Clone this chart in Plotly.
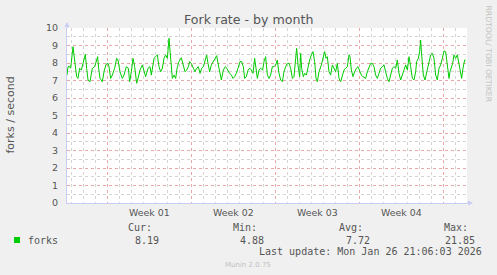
import plotly.graph_objects as go

# ---- data (hours since start of graph window, forks/second) ----
hours = [
    0.0, 2.0, 6.0, 7.3, 12.0, 16.0, 19.3, 22.0, 25.3, 28.7, 32.7, 36.7, 39.3, 42.0, 46.0,
    50.7, 55.3, 59.3, 61.3, 63.3, 66.0, 70.7, 74.0, 78.0, 82.0, 84.0, 87.3, 90.7, 95.3,
    99.3, 102.0, 106.0, 110.7, 114.0, 118.7, 122.7, 125.3, 128.7, 132.0, 135.3, 139.3,
    142.0, 146.0, 150.7, 154.0, 157.3, 162.0, 166.0, 168.7, 171.3, 174.0, 177.3, 180.7,
    184.0, 187.3, 190.7,
    194.0, 197.3, 200.7, 204.0, 207.3, 210.7, 214.0, 217.3, 220.7, 224.0, 228.7, 232.7,
    236.0, 239.3, 242.7, 245.3, 248.7, 252.7, 256.0, 259.3, 262.7, 266.0, 269.3, 272.7,
    276.7, 279.3, 282.0, 285.3, 288.7, 292.7, 297.3, 299.3, 302.7, 306.0, 308.7, 312.7,
    316.7, 319.3, 322.7, 325.3, 328.7, 332.0, 335.3, 338.7, 342.0, 346.0, 349.3, 352.7,
    355.3, 358.7, 362.0, 366.0, 368.7, 372.0, 375.3, 378.0, 380.7, 384.0, 387.3, 391.3,
    394.0, 397.3, 400.7, 404.0, 407.3, 410.7, 414.0, 417.3, 420.7, 423.3, 427.3, 430.7,
    434.0, 437.3, 440.7, 444.0, 447.3, 450.7, 454.0, 457.3, 459.3, 462.0, 465.3, 467.3,
    469.3, 472.7, 475.3, 478.7, 482.0, 485.3, 488.7, 492.0, 495.3, 498.0, 500.7, 504.0,
    508.7, 512.7, 515.3, 518.0, 520.7, 524.0, 527.3, 530.7, 534.0, 537.3, 540.7, 544.0,
    547.3, 550.7, 554.0, 557.3, 560.7, 564.0, 566.0, 568.7, 572.0, 575.3, 578.7, 582.0,
    585.3, 588.7, 592.0,
    597.3, 600.7, 604.0, 607.3, 610.7, 614.0, 617.3, 620.7, 624.0, 627.3, 630.7, 634.0,
    637.3, 640.7, 644.0, 647.3, 650.7, 654.0, 657.3, 660.7, 664.0, 667.3, 670.7, 674.0,
    677.3, 680.7, 684.0, 687.3, 690.7, 694.0, 697.3, 699.3, 702.7, 705.3, 707.3, 709.3,
    712.7, 716.0, 719.3, 724.0, 727.3, 730.7, 734.0, 737.3, 740.7, 744.0, 747.3, 750.7,
    754.0, 757.3, 760.7, 764.0, 766.0, 768.7, 771.3, 774.0, 777.3, 780.7, 784.0, 787.3,
    789.3, 792.0, 795.3, 797.3,
]
forks = [
    7.31, 7.79, 7.79, 7.70, 8.93, 7.79, 7.22, 7.12, 7.70, 7.60, 7.98, 8.50, 7.70, 7.03, 6.93,
    7.70, 7.79, 8.27, 8.36, 7.70, 7.12, 6.93, 7.50, 7.92, 7.98, 7.79, 7.12, 7.31, 7.70,
    8.27, 8.17, 7.50, 7.12, 7.31, 7.79, 7.70, 6.93, 7.50, 8.27, 7.79, 6.84,
    7.12, 7.60, 7.89, 7.50, 7.22, 7.70, 7.79, 7.31, 7.89, 8.27, 8.36, 8.46,
    7.79, 7.50, 7.70,
    8.27, 8.46, 8.27, 9.41, 8.08, 7.12, 7.31, 7.12, 7.79, 8.08, 8.30, 7.89,
    7.50, 7.60, 7.79, 8.08, 7.98, 7.70, 7.50, 7.70, 7.79, 7.41, 7.70, 7.79,
    8.27, 8.46, 7.98, 7.50, 7.89, 8.08, 8.27, 8.42, 7.89, 7.50, 7.03, 7.60,
    7.79, 7.70, 7.50, 7.41, 7.31, 7.12, 7.22, 7.41, 7.70, 8.08, 8.08, 7.79,
    7.12, 7.22, 7.60, 7.70, 7.60, 7.41, 8.27, 7.79, 7.12, 7.60, 7.70, 7.60,
    8.08, 8.36, 7.31, 7.12, 7.31, 7.79, 7.79, 7.89, 8.17, 7.50, 7.03, 6.93,
    7.50, 7.79, 7.98, 7.98, 7.70, 7.12, 7.22, 8.27, 8.84, 7.89, 7.22, 8.55,
    7.70, 7.22, 7.41, 7.31, 7.79, 8.17, 8.46, 8.65, 8.08, 7.12, 6.93, 7.50,
    7.89, 8.27, 8.65, 8.27, 8.36, 7.50, 7.31, 7.89, 7.70, 7.50, 7.98, 7.12,
    6.93, 7.31, 7.60, 7.70, 7.79, 8.46, 8.36, 7.60, 7.22, 7.50, 7.70, 7.79,
    7.60, 7.31, 7.22,
    7.12, 7.50, 7.79, 7.98, 7.98, 7.79, 7.31, 7.12, 7.41, 7.70, 7.79, 7.89,
    7.50, 7.12, 6.93, 7.31, 7.70, 7.79, 7.70, 8.17, 7.41, 7.03, 7.31, 7.70,
    7.89, 7.60, 8.36, 7.79, 7.12, 7.03, 7.50, 8.08, 8.27, 8.65, 9.31, 8.46,
    7.31, 7.03, 7.50, 8.08, 8.46, 8.55, 8.27, 7.31, 7.03, 7.70, 7.89, 8.27,
    8.69, 8.65, 7.89, 7.12, 7.50, 7.70, 7.98, 8.46, 8.27, 8.46, 7.89, 7.22,
    7.12, 7.70, 8.17, 8.17,
]

window_hours = 800
first_week_boundary = 80.6   # hour of first Monday 00:00 in the window
week_labels = ["Week 01", "Week 02", "Week 03", "Week 04"]
stat_names = ["Cur:", "Min:", "Avg:", "Max:"]
stat_values = ["8.19", "4.88", "7.72", "21.85"]
series_name = "forks"
title = "Fork rate - by month"
y_title = "forks / second"
last_update = "Last update: Mon Jan 26 21:06:03 2026"
footer = "Munin 2.0.75"
watermark = "RRDTOOL/ TOBI OETIKER"

W, H = 497, 275
L, R, T, B = 67, 30, 28, 72
PW, PH = W - L - R, H - T - B

def px(x):
    return (x - L) / PW

def py(y):
    return (H - B - y) / PH

GREEN = "#00cc00"
TXT = "#555555"
MONO = "DejaVu Sans Mono"
SANS = "DejaVu Sans"
RED_GRID = "#e8a8a8"
GREY_GRID = "#d4d4d4"
AXIS = "#c8ccf4"

fig = go.Figure()
fig.add_trace(go.Scatter(x=hours, y=forks, mode="lines",
                         line=dict(color=GREEN, width=1), hoverinfo="skip",
                         showlegend=False))

fig.update_layout(
    width=W, height=H,
    margin=dict(l=L, r=R, t=T, b=B),
    paper_bgcolor="#f0f0f0", plot_bgcolor="white",
    showlegend=False,
    xaxis=dict(range=[0, window_hours], showticklabels=False, ticks="",
               tick0=first_week_boundary, dtick=168,
               showgrid=True, gridcolor=RED_GRID, griddash="dot", gridwidth=1,
               minor=dict(tick0=first_week_boundary, dtick=24, showgrid=True,
                          gridcolor=GREY_GRID, griddash="dot", gridwidth=1),
               zeroline=False, showline=True, linecolor=AXIS, linewidth=1,
               fixedrange=True),
    yaxis=dict(range=[0, 10], tick0=0, dtick=1, ticks="",
               ticklabelstandoff=6,
               tickfont=dict(family=SANS, size=9.5, color=TXT),
               showgrid=True, gridcolor=RED_GRID, griddash="dot", gridwidth=1,
               minor=dict(dtick=0.5, showgrid=True, gridcolor=GREY_GRID,
                          griddash="dot", gridwidth=1),
               zeroline=False, showline=True, linecolor=AXIS, linewidth=1,
               fixedrange=True),
)

ann = []
# title
ann.append(dict(text=title, xref="paper", yref="paper", x=px(248), y=py(19.5),
                xanchor="center", yanchor="middle", showarrow=False,
                font=dict(family=SANS, size=12.6, color=TXT)))
# y axis title
ann.append(dict(text=y_title, xref="paper", yref="paper", x=px(10), y=py(115.5),
                xanchor="center", yanchor="middle", textangle=-90, showarrow=False,
                font=dict(family=SANS, size=11, color=TXT)))
# watermark
ann.append(dict(text=watermark, xref="paper", yref="paper", x=px(488), y=py(53.5),
                xanchor="center", yanchor="middle", textangle=90, showarrow=False,
                font=dict(family=SANS, size=7.7, color="#c4c4c4")))
# week labels (centred between week boundaries)
for i, lab in enumerate(week_labels):
    ann.append(dict(text=lab, xref="x", yref="paper",
                    x=first_week_boundary + 84 + 168 * i, y=py(212.3),
                    xanchor="center", yanchor="middle", showarrow=False,
                    font=dict(family=SANS, size=9.4, color=TXT)))
# legend stats
name_right = [154, 259.3, 365, 470]
val_right = [161, 266, 371.7, 476.7]
for n, v, xr1, xr2 in zip(stat_names, stat_values, name_right, val_right):
    ann.append(dict(text=n, xref="paper", yref="paper", x=px(xr1), y=py(227.5),
                    xanchor="right", yanchor="middle", showarrow=False,
                    font=dict(family=MONO, size=10, color=TXT)))
    ann.append(dict(text=v, xref="paper", yref="paper", x=px(xr2), y=py(240),
                    xanchor="right", yanchor="middle", showarrow=False,
                    font=dict(family=MONO, size=10, color=TXT)))
ann.append(dict(text=series_name, xref="paper", yref="paper", x=px(26), y=py(240),
                xanchor="left", yanchor="middle", showarrow=False,
                font=dict(family=MONO, size=10, color=TXT)))
ann.append(dict(text=last_update, xref="paper", yref="paper", x=px(484), y=py(251.7),
                xanchor="right", yanchor="middle", showarrow=False,
                font=dict(family=MONO, size=10, color=TXT)))
ann.append(dict(text=footer, xref="paper", yref="paper", x=px(248), y=py(264.5),
                xanchor="center", yanchor="middle", showarrow=False,
                font=dict(family=SANS, size=7, color="#c0c0c0")))
# axis arrows
ann.append(dict(text="", xref="paper", yref="paper", x=0, y=py(22),
                ax=0, ay=8, showarrow=True, arrowhead=2, arrowsize=1,
                arrowwidth=1, arrowcolor=AXIS))
ann.append(dict(text="", xref="paper", yref="paper", x=px(473), y=0,
                ax=-8, ay=0, showarrow=True, arrowhead=2, arrowsize=1,
                arrowwidth=1, arrowcolor=AXIS))
fig.update_layout(annotations=ann)

# legend colour swatch
fig.add_shape(type="rect", xref="paper", yref="paper",
              x0=px(14), x1=px(20), y0=py(243), y1=py(237),
              fillcolor=GREEN, line=dict(width=0))

fig.write_html("out.html")
